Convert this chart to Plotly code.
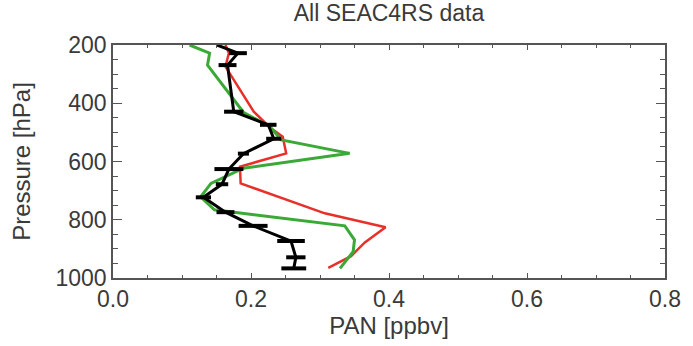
import plotly.graph_objects as go

# Black: observations (mean with horizontal error bars)
obs_pan = [0.151, 0.181, 0.166, 0.175, 0.225, 0.233, 0.189, 0.168, 0.158, 0.131, 0.163, 0.203, 0.258, 0.265, 0.262]
obs_err = [0.0, 0.013, 0.013, 0.014, 0.012, 0.011, 0.008, 0.021, 0.009, 0.011, 0.013, 0.021, 0.020, 0.014, 0.018]
obs_p = [200, 228, 269, 429, 474, 522, 573, 626, 678, 723, 774, 821, 873, 929, 967]

# Red: model 1
red_pan = [0.163, 0.168, 0.163, 0.204, 0.229, 0.246, 0.251, 0.184, 0.185, 0.307, 0.395, 0.365, 0.345, 0.312]
red_p = [200, 228, 274, 429, 486, 515, 572, 618, 675, 778, 826, 878, 925, 965]

# Green: model 2
grn_pan = [0.111, 0.140, 0.137, 0.189, 0.227, 0.244, 0.343, 0.189, 0.142, 0.127, 0.147, 0.336, 0.350, 0.348, 0.329]
grn_p = [200, 228, 269, 431, 480, 526, 572, 623, 675, 721, 766, 821, 869, 910, 967]

x_ticks = [0.0, 0.2, 0.4, 0.6, 0.8]
y_ticks = [200, 400, 600, 800, 1000]

FONT = "Liberation Sans"
TXT = "#3a3a3a"
AX = "#555555"

fig = go.Figure()
fig.add_trace(go.Scatter(x=red_pan, y=red_p, mode="lines",
                         line=dict(color="#e8302a", width=2.5), showlegend=False))
fig.add_trace(go.Scatter(x=grn_pan, y=grn_p, mode="lines",
                         line=dict(color="#3aa935", width=3), showlegend=False))
fig.add_trace(go.Scatter(x=obs_pan, y=obs_p, mode="lines",
                         line=dict(color="black", width=3),
                         error_x=dict(type="data", array=obs_err, visible=True,
                                      color="black", thickness=4, width=0),
                         showlegend=False))

fig.update_layout(
    width=693, height=346,
    margin=dict(l=113, r=17, t=45, b=68),
    paper_bgcolor="white", plot_bgcolor="white",
    font=dict(family=FONT, size=23, color=TXT),
    title=dict(text="All SEAC4RS data", x=0.5, xref="paper", y=0.962, yanchor="middle",
               font=dict(family=FONT, size=23, color=TXT)),
)
fig.update_xaxes(
    range=[0, 0.8], tickvals=x_ticks, ticktext=[f"{v:.1f}" for v in x_ticks],
    ticks="inside", ticklen=5, tickwidth=1.2, tickcolor=AX,
    tickfont=dict(size=23),
    minor=dict(dtick=0.05, ticks="inside", ticklen=3, tickcolor=AX, showgrid=False),
    showline=True, linecolor=AX, linewidth=1.5, mirror="ticks",
    showgrid=False, zeroline=False,
    title=dict(text="PAN [ppbv]", standoff=4, font=dict(size=24)),
)
fig.update_yaxes(
    range=[1000, 200], tickvals=y_ticks,
    ticks="inside", ticklen=9, tickwidth=1.2, tickcolor=AX,
    tickfont=dict(size=23),
    minor=dict(dtick=50, ticks="inside", ticklen=5, tickcolor=AX, showgrid=False),
    showline=True, linecolor=AX, linewidth=1.5, mirror="ticks",
    showgrid=False, zeroline=False,
    title=dict(text="Pressure [hPa]", standoff=18, font=dict(size=24)),
)

fig.write_html("out.html")
